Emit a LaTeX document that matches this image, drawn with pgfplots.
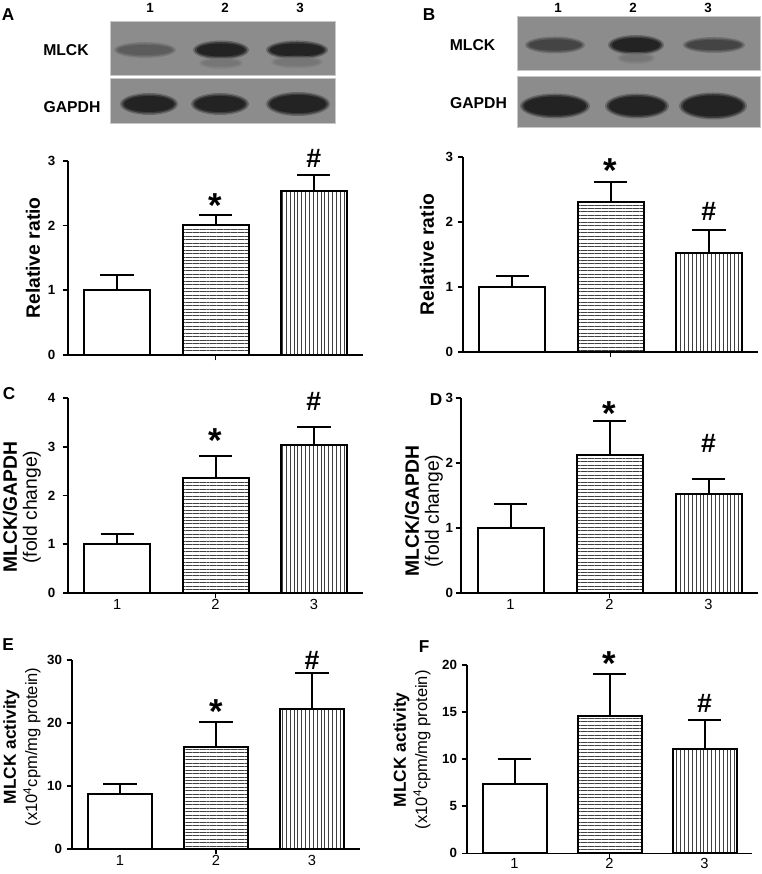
\documentclass[border=0pt]{standalone}
\usepackage{fontspec}
\setmainfont{Liberation Sans}
\usepackage{pgfplots}
\pgfplotsset{compat=1.18}
\usetikzlibrary{patterns.meta}
\definecolor{blot}{RGB}{140,140,140}
\definecolor{blotedge}{RGB}{200,200,200}
\definecolor{dk}{RGB}{35,35,35}
\definecolor{md}{RGB}{68,68,68}
\definecolor{ft}{RGB}{92,92,92}
\definecolor{vf}{RGB}{118,118,118}
\newcommand\band[5]{%
  \fill[#5, opacity=0.35] (#1,#2) ellipse ({#3+4} and {#4+3});
  \fill[#5, opacity=0.6] (#1,#2) ellipse ({#3+2} and {#4+1.5});
  \fill[#5] (#1,#2) ellipse (#3 and #4);}
\pgfplotsset{
 panel/.style={
  scale only axis, clip=false,
  axis x line=bottom, axis y line=left,
  axis line style={line width=1.25pt,-},
  xmin=0.5, xmax=3.5, ymin=0,
  tick align=outside, major tick length=4pt,
  tick style={line width=1.25pt, black},
  /pgf/number format/assume math mode=true,
  yticklabel style={font=\bfseries\fontsize{10}{12}\selectfont},
  xticklabel style={font=\fontsize{11}{13}\selectfont, yshift=2.5pt},
  ylabel style={anchor=center, align=center},
 },
 noxlab/.style={xtick={2}, xticklabels={}},
 xlab/.style={xtick={1,2,3}, xticklabels={1,2,3}, xtick style={draw=none},
   extra x ticks={2}, extra x tick labels={}, extra x tick style={xtick style={draw=black}}},
 barbase/.style={ybar, bar shift=0pt, draw=black, line width=1.5pt,
   error bars/y dir=plus, error bars/y explicit,
   error bars/error mark=|,
   error bars/error bar style={line width=1.5pt, black},
   error bars/error mark options={line width=1.5pt, black, mark size=12.5pt}},
 bar1/.style={barbase, fill=white},
 bar2/.style={barbase, pattern={Lines[angle=0,distance=2.6pt,line width=0.55pt]}, pattern color=black!75},
 bar3/.style={barbase, pattern={Lines[angle=90,distance=2.9pt,line width=0.55pt]}, pattern color=black!75},
}
\tikzset{
 star/.style={font=\bfseries\fontsize{26}{26}\selectfont, inner sep=0pt, yshift=-5.5pt},
 hash/.style={font=\bfseries\fontsize{20}{20}\selectfont, inner sep=0pt},
 plab/.style={font=\bfseries\fontsize{12.9}{14}\selectfont},
 blab/.style={font=\bfseries\fontsize{11.8}{13}\selectfont},
 lane/.style={font=\bfseries\fontsize{10}{12}\selectfont},
}
\begin{document}
\begin{tikzpicture}
\useasboundingbox (0,0) rectangle (570.75pt,655.5pt);
\begin{scope}[x=0.75pt,y=-0.75pt,yshift=655.5pt]
 % Panel A blot
 \filldraw[fill=blot, draw=blotedge, line width=0.75pt] (110,22) rectangle (335,76);
 \filldraw[fill=blot, draw=blotedge, line width=0.75pt] (110,79) rectangle (335,124);
 \band{145}{50}{27}{5}{ft}
 \band{221}{50}{24}{6.5}{dk}
 \band{297}{50}{27}{6.5}{dk}
 \band{221}{63}{18}{3}{vf}
 \band{297}{62}{22}{3.5}{vf}
 \band{149}{104}{25}{8}{dk}
 \band{220}{104}{25}{8}{dk}
 \band{298}{104}{28}{9}{dk}
 % Panel B blot
 \filldraw[fill=blot, draw=blotedge, line width=0.75pt] (517,17) rectangle (760,71);
 \filldraw[fill=blot, draw=blotedge, line width=0.75pt] (517,77) rectangle (760,128);
 \band{555}{45}{26}{5.5}{md}
 \band{636}{45}{24}{7}{dk}
 \band{714}{45}{27}{5}{md}
 \band{636}{58}{15}{3}{vf}
 \band{555}{106}{31}{9.5}{dk}
 \band{637}{106}{28}{9.5}{dk}
 \band{713}{106}{30}{10.5}{dk}
 % labels
 \node[plab] at (8,15) {A};
 \node[plab] at (429,15) {B};
 \node[plab] at (9,394) {C};
 \node[plab] at (436,400) {D};
 \node[plab] at (8,645) {E};
 \node[plab] at (424,647) {F};
 \node[lane] at (150,7.5) {1};
 \node[lane] at (225,7.5) {2};
 \node[lane] at (300,7.5) {3};
 \node[lane] at (558,7.5) {1};
 \node[lane] at (633,7.5) {2};
 \node[lane] at (708,7.5) {3};
 \node[blab] at (66,50) {MLCK};
 \node[blab] at (72,107) {GAPDH};
 \node[blab] at (472.5,45) {MLCK};
 \node[blab] at (478.5,103.5) {GAPDH};
\end{scope}

% Panel A chart
\begin{axis}[panel, noxlab, at={(51pt,389.25pt)}, anchor=south west,
  width=221.25pt, height=145.5pt, ymax=3, ytick={0,1,2,3}, bar width=49.5pt,
  yticklabel style={xshift=-2pt},
  ylabel={\bfseries Relative ratio},
  ylabel style={at={(axis description cs:-0.119,0.5)}, font=\fontsize{14.5}{15}\selectfont}]
\addplot[bar1] coordinates {(1,1.00) +- (0,0.23)};
\addplot[bar2] coordinates {(2,2.01) +- (0,0.15)};
\addplot[bar3] coordinates {(3,2.53) +- (0,0.25)};
\node[star] at (axis cs:2,2.43) {*};
\node[hash] at (axis cs:3,3.04) {\#};
\end{axis}

% Panel B chart
\begin{axis}[panel, noxlab, at={(347.25pt,391.5pt)}, anchor=south west,
  width=221.25pt, height=146.25pt, ymax=3, ytick={0,1,2,3}, bar width=49.5pt,
  ylabel={\bfseries Relative ratio},
  ylabel style={at={(axis description cs:-0.122,0.5)}, font=\fontsize{14.5}{15}\selectfont}]
\addplot[bar1] coordinates {(1,1.00) +- (0,0.17)};
\addplot[bar2] coordinates {(2,2.31) +- (0,0.31)};
\addplot[bar3] coordinates {(3,1.52) +- (0,0.35)};
\node[star] at (axis cs:2,2.91) {*};
\node[hash] at (axis cs:3,2.16) {\#};
\end{axis}

% Panel C chart
\begin{axis}[panel, xlab, at={(51pt,210.75pt)}, anchor=south west,
  width=221.25pt, height=146.25pt, ymax=4, ytick={0,1,2,3,4}, bar width=49.5pt,
  yticklabel style={xshift=-2pt},
  ylabel={{\bfseries MLCK/GAPDH}\\(fold change)},
  ylabel style={at={(axis description cs:-0.156,0.44)}, font=\fontsize{14.5}{15}\selectfont}]
\addplot[bar1] coordinates {(1,1.00) +- (0,0.22)};
\addplot[bar2] coordinates {(2,2.35) +- (0,0.45)};
\addplot[bar3] coordinates {(3,3.04) +- (0,0.37)};
\node[star] at (axis cs:2,3.28) {*};
\node[hash] at (axis cs:3,3.92) {\#};
\end{axis}

% Panel D chart
\begin{axis}[panel, xlab, at={(345.75pt,210.75pt)}, anchor=south west,
  width=222.75pt, height=146.25pt, ymax=3, ytick={0,1,2,3}, bar width=49.5pt,
  yticklabel style={xshift=1.5pt},
  ylabel={{\bfseries MLCK/GAPDH}\\(fold change)},
  ylabel style={at={(axis description cs:-0.125,0.42)}, font=\fontsize{14.5}{15}\selectfont}]
\addplot[bar1] coordinates {(1,1.00) +- (0,0.37)};
\addplot[bar2] coordinates {(2,2.13) +- (0,0.51)};
\addplot[bar3] coordinates {(3,1.53) +- (0,0.22)};
\node[star] at (axis cs:2,2.87) {*};
\node[hash] at (axis cs:3,2.30) {\#};
\end{axis}

% Panel E chart
\begin{axis}[panel, xlab, at={(54pt,18.75pt)}, anchor=south west,
  width=216pt, height=141.75pt, ymax=30, ytick={0,10,20,30}, bar width=48pt,
  ylabel={{\bfseries MLCK activity}\\{\fontsize{12.4}{16}\selectfont (x10\textsuperscript{4}cpm/mg protein)}},
  ylabel style={at={(axis description cs:-0.174,0.54)}, font=\fontsize{13}{16}\selectfont}]
\addplot[bar1] coordinates {(1,8.7) +- (0,1.6)};
\addplot[bar2] coordinates {(2,16.2) +- (0,4.0)};
\addplot[bar3] coordinates {(3,22.3) +- (0,5.6)};
\node[star] at (axis cs:2,22.9) {*};
\node[hash] at (axis cs:3,30.0) {\#};
\end{axis}

% Panel F chart
\begin{axis}[panel, xlab, at={(350.25pt,15.5pt)}, anchor=south west,
  width=213.75pt, height=141.25pt, ymax=20, ytick={0,5,10,15,20}, bar width=48pt,
  xticklabel style={yshift=1pt},
  ylabel={{\bfseries MLCK activity}\\{\fontsize{12.4}{16}\selectfont (x10\textsuperscript{4}cpm/mg protein)}},
  ylabel style={at={(axis description cs:-0.193,0.55)}, font=\fontsize{13}{16}\selectfont}]
\addplot[bar1] coordinates {(1,7.36) +- (0,2.7)};
\addplot[bar2] coordinates {(2,14.6) +- (0,4.4)};
\addplot[bar3] coordinates {(3,11.07) +- (0,3.1)};
\node[star] at (axis cs:2,20.9) {*};
\node[hash] at (axis cs:3,15.9) {\#};
\end{axis}
\end{tikzpicture}
\end{document}
